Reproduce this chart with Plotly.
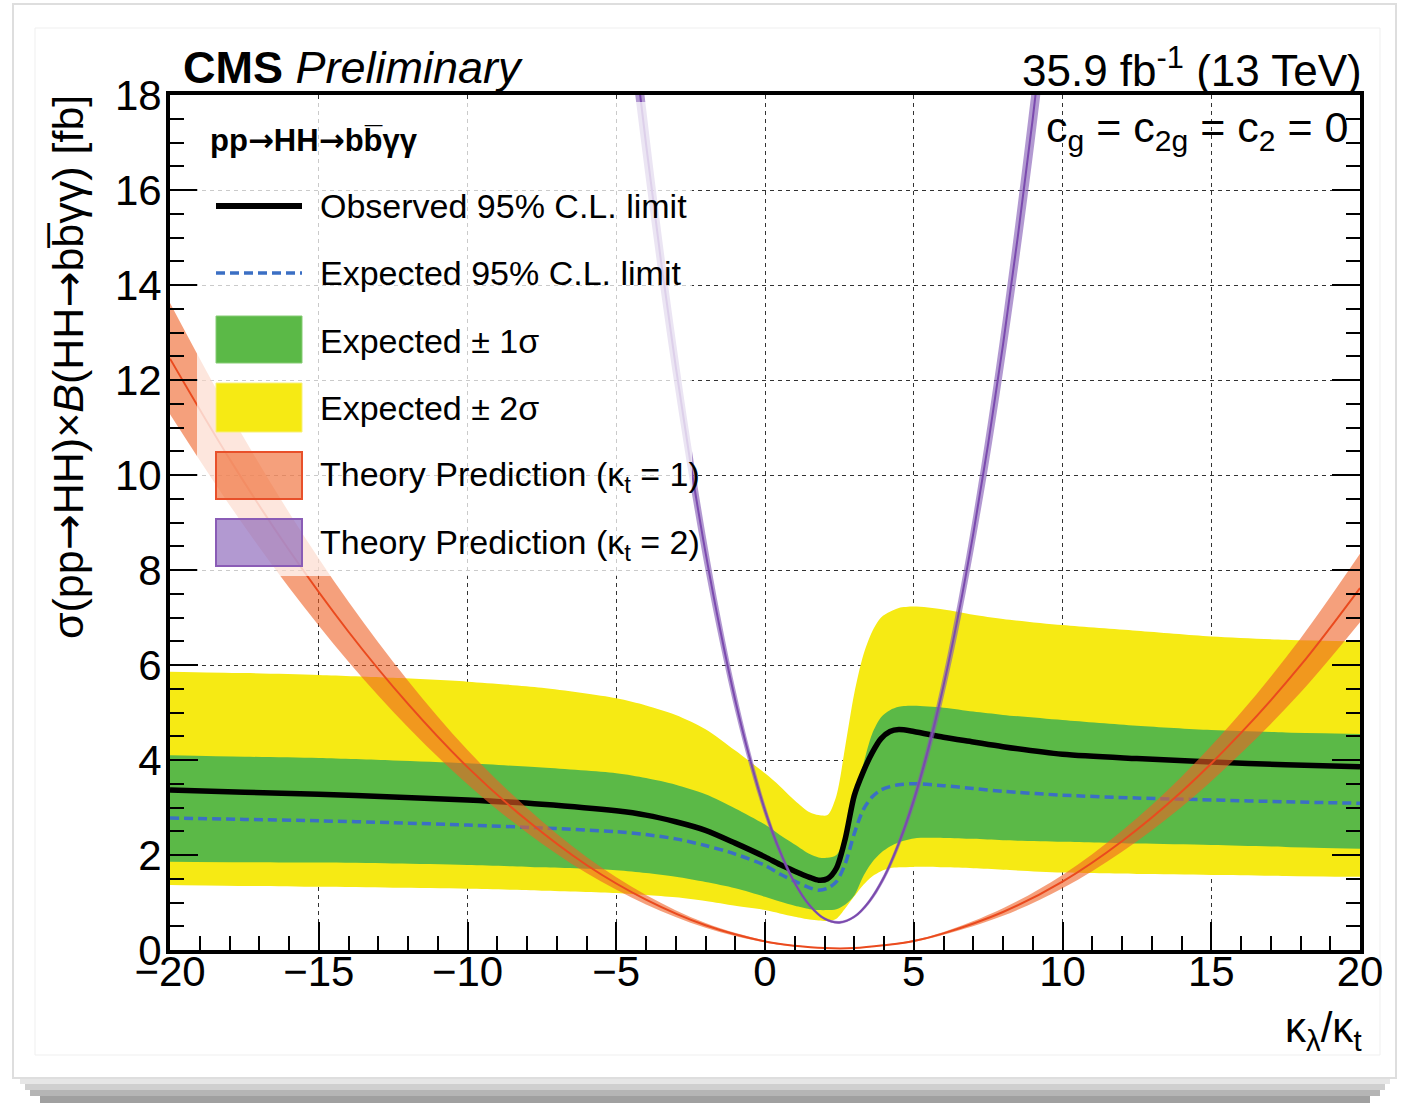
import plotly.graph_objects as go

# ---------------- data ----------------
kl = [-20, -17.5, -15, -12.5, -10, -7.5, -5, -4, -3, -2, -1, 0, 0.5, 1, 1.5, 1.8,
      2.1, 2.4, 2.7, 3.0, 3.3, 3.6, 3.9, 4.2, 4.5, 5, 6, 7, 8, 10, 12.5, 15, 17.5, 20]

observed = [3.37, 3.32, 3.28, 3.22, 3.16, 3.07, 2.93, 2.84, 2.70, 2.52, 2.25, 1.96, 1.80, 1.66, 1.53, 1.47,
            1.50, 1.72, 2.35, 3.25, 3.75, 4.15, 4.45, 4.60, 4.64, 4.60, 4.48, 4.38, 4.28, 4.12, 4.03, 3.96, 3.90, 3.86]

expected = [2.78, 2.75, 2.72, 2.68, 2.63, 2.57, 2.49, 2.43, 2.34, 2.20, 2.02, 1.78, 1.60, 1.45, 1.31, 1.26,
            1.30, 1.44, 1.82, 2.45, 2.95, 3.22, 3.37, 3.44, 3.48, 3.50, 3.46, 3.40, 3.34, 3.26, 3.20, 3.16, 3.12, 3.09]

exp_1s_hi = [4.10, 4.07, 4.04, 3.99, 3.93, 3.84, 3.72, 3.62, 3.48, 3.28, 2.98, 2.64, 2.42, 2.22, 2.02, 1.95,
             1.94, 2.00, 2.40, 3.10, 3.90, 4.55, 4.90, 5.05, 5.12, 5.14, 5.10, 5.02, 4.95, 4.84, 4.72, 4.63, 4.58, 4.55]
exp_1s_lo = [1.86, 1.85, 1.84, 1.82, 1.79, 1.74, 1.68, 1.62, 1.54, 1.43, 1.30, 1.12, 1.02, 0.93, 0.86, 0.84,
             0.84, 0.86, 0.96, 1.15, 1.55, 1.85, 2.05, 2.18, 2.27, 2.35, 2.36, 2.34, 2.31, 2.28, 2.24, 2.21, 2.17, 2.13]

exp_2s_hi = [5.86, 5.83, 5.79, 5.73, 5.65, 5.52, 5.30, 5.15, 4.95, 4.65, 4.20, 3.72, 3.45, 3.15, 2.90, 2.84,
             2.84, 3.25, 4.30, 5.40, 6.20, 6.70, 7.00, 7.12, 7.20, 7.23, 7.17, 7.06, 6.97, 6.84, 6.72, 6.60, 6.53, 6.49]
exp_2s_lo = [1.37, 1.35, 1.33, 1.31, 1.29, 1.25, 1.20, 1.16, 1.11, 1.03, 0.93, 0.84, 0.77, 0.70, 0.64, 0.62,
             0.61, 0.66, 0.88, 1.13, 1.37, 1.55, 1.66, 1.72, 1.74, 1.75, 1.74, 1.72, 1.69, 1.63, 1.60, 1.58, 1.56, 1.54]

# theory prediction, kappa_t = 1
th1_x = [-20, -18, -16, -14, -12, -10, -8, -6, -4, -2, 0, 1, 2, 3, 4, 5, 6, 8, 10, 12, 14, 16, 18, 20]
th1_c = [12.45, 10.34, 8.42, 6.70, 5.18, 3.85, 2.73, 1.79, 1.06, 0.52, 0.18, 0.09, 0.04, 0.04,
         0.10, 0.19, 0.35, 0.80, 1.44, 2.29, 3.33, 4.57, 5.99, 7.62]
th1_hi = [13.62, 11.31, 9.21, 7.33, 5.67, 4.21, 2.99, 1.96, 1.16, 0.57, 0.20, 0.10, 0.045, 0.045,
          0.11, 0.21, 0.38, 0.88, 1.58, 2.51, 3.65, 5.00, 6.56, 8.34]
th1_lo = [11.28, 9.37, 7.63, 6.07, 4.69, 3.49, 2.47, 1.62, 0.96, 0.47, 0.16, 0.08, 0.035, 0.035,
          0.09, 0.17, 0.32, 0.72, 1.30, 2.07, 3.01, 4.14, 5.42, 6.90]

# theory prediction, kappa_t = 2
th2_x = [-4.5, -4, -3.5, -3, -2.5, -2, -1.5, -1, -0.5, 0, 0.5, 1, 1.5, 2, 2.5, 3, 3.5, 4,
         4.5, 5, 5.5, 6, 6.5, 7, 7.5, 8, 8.5, 9, 9.5]
th2_c = [19.6, 16.97, 14.52, 12.28, 10.23, 8.37, 6.72, 5.26, 4.01, 2.94, 2.08, 1.41, 0.94, 0.66,
         0.58, 0.70, 1.02, 1.53, 2.25, 3.15, 4.26, 5.56, 7.06, 8.76, 10.65, 12.74, 15.03, 17.50, 20.2]
th2_hi = [20.5, 17.73, 15.17, 12.83, 10.69, 8.75, 7.02, 5.50, 4.19, 3.07, 2.17, 1.47, 0.98, 0.69,
          0.61, 0.73, 1.07, 1.60, 2.35, 3.29, 4.45, 5.81, 7.38, 9.15, 11.13, 13.31, 15.71, 18.29, 21.1]
th2_lo = [18.7, 16.21, 13.87, 11.73, 9.77, 7.99, 6.42, 5.02, 3.83, 2.81, 1.99, 1.35, 0.90, 0.63,
          0.55, 0.67, 0.97, 1.46, 2.15, 3.01, 4.07, 5.31, 6.74, 8.37, 10.17, 12.17, 14.35, 16.71, 19.3]

x_ticks = [-20, -15, -10, -5, 0, 5, 10, 15, 20]
y_ticks = [0, 2, 4, 6, 8, 10, 12, 14, 16, 18]

legend_labels = ["Observed 95% C.L. limit", "Expected 95% C.L. limit", "Expected \u00b1 1\u03c3",
                 "Expected \u00b1 2\u03c3", "Theory Prediction (\u03ba<sub>t</sub> = 1)",
                 "Theory Prediction (\u03ba<sub>t</sub> = 2)"]

# ---------------- styling ----------------
W, H = 1404, 1103
PL, PR, PT, PB = 170, 1360, 95, 950
FONT = "Liberation Sans, Arial, sans-serif"
ARROW = '<span style="font-family:DejaVu Sans">\u2192</span>'

YELLOW = "#f6ea14"
GREEN = "#5bb947"
BLUE = "#3b6fc4"
ORANGE_FILL = "rgba(238,97,37,0.6)"
ORANGE_LINE = "#ea4a1e"
PURPLE_FILL = "rgba(130,90,180,0.62)"
PURPLE_LINE = "#7b4aae"


def px(xp):
    return (xp - PL) / (PR - PL)


def py(yp):
    return (PB - yp) / (PB - PT)


SM = 0.8
fig = go.Figure()


def band(x, lo, hi, color, sm=SM):
    fig.add_trace(go.Scatter(x=x, y=lo, mode="lines", line=dict(width=0, shape="spline", smoothing=sm),
                             showlegend=False, hoverinfo="skip"))
    fig.add_trace(go.Scatter(x=x, y=hi, mode="lines", line=dict(width=0, shape="spline", smoothing=sm),
                             fill="tonexty", fillcolor=color, showlegend=False, hoverinfo="skip"))


band(kl, exp_2s_lo, exp_2s_hi, YELLOW)
band(kl, exp_1s_lo, exp_1s_hi, GREEN)
fig.add_trace(go.Scatter(x=kl, y=expected, mode="lines",
                         line=dict(color=BLUE, width=3.5, dash="9px,5px", shape="spline", smoothing=SM),
                         showlegend=False))
fig.add_trace(go.Scatter(x=kl, y=observed, mode="lines",
                         line=dict(color="black", width=5.5, shape="spline", smoothing=SM),
                         showlegend=False))
band(th1_x, th1_lo, th1_hi, ORANGE_FILL, 1.0)
fig.add_trace(go.Scatter(x=th1_x, y=th1_c, mode="lines",
                         line=dict(color=ORANGE_LINE, width=2, shape="spline", smoothing=1.0), showlegend=False))
band(th2_x, th2_lo, th2_hi, PURPLE_FILL, 1.0)
fig.add_trace(go.Scatter(x=th2_x, y=th2_c, mode="lines",
                         line=dict(color=PURPLE_LINE, width=2, shape="spline", smoothing=1.0), showlegend=False))

shapes = []
# photo-frame look
shapes.append(dict(type="rect", xref="paper", yref="paper", x0=px(13), x1=px(1396), y0=py(1078), y1=py(4),
                   line=dict(color="#dedede", width=2), layer="below"))
shapes.append(dict(type="rect", xref="paper", yref="paper", x0=px(35), x1=px(1380), y0=py(1055), y1=py(28),
                   line=dict(color="#efefef", width=1), layer="below"))
for (a, b, c, l, r) in [(1079, 1084, "#e6e6e6", 20, 1390), (1084, 1090, "#cfcfcf", 25, 1385),
                        (1090, 1096, "#b5b5b5", 30, 1380), (1096, 1103, "#a0a0a0", 40, 1370)]:
    shapes.append(dict(type="rect", xref="paper", yref="paper", x0=px(l), x1=px(r), y0=py(b), y1=py(a),
                       line=dict(width=0), fillcolor=c, layer="below"))

# semi-transparent legend box
shapes.append(dict(type="rect", xref="paper", yref="paper", x0=px(197), x1=px(692), y0=py(576), y1=py(102),
                   line=dict(width=0), fillcolor="rgba(255,255,255,0.74)", layer="above"))
# legend symbols
SX0, SX1 = px(216), px(302)
shapes.append(dict(type="line", xref="paper", yref="paper", x0=SX0, x1=SX1, y0=py(206), y1=py(206),
                   line=dict(color="black", width=6), layer="above"))
shapes.append(dict(type="line", xref="paper", yref="paper", x0=SX0, x1=SX1, y0=py(273), y1=py(273),
                   line=dict(color=BLUE, width=3.5, dash="9px,5px"), layer="above"))
boxes = [(316, 363, GREEN, "#86cc74", 1), (383, 432, YELLOW, "#f8f07a", 1),
         (452, 499, ORANGE_FILL, "#e8502a", 2), (519, 566, PURPLE_FILL, "#8a5cb6", 2)]
for (t, b, fc, lc, lw) in boxes:
    shapes.append(dict(type="rect", xref="paper", yref="paper", x0=SX0, x1=SX1, y0=py(b), y1=py(t),
                       fillcolor=fc, line=dict(color=lc, width=lw), layer="above"))

annotations = []
leg_y = [206, 273, 341, 408, 476, 544]
for lab, yy in zip(legend_labels, leg_y):
    annotations.append(dict(xref="paper", yref="paper", x=px(318), y=py(yy), xanchor="left", yanchor="middle",
                            text=lab, showarrow=False, font=dict(family=FONT, size=34, color="black")))

annotations += [
    dict(xref="paper", yref="paper", x=px(181), y=py(68), xanchor="left", yanchor="middle",
         text="<b>CMS</b> <i>Preliminary</i>", showarrow=False, font=dict(family=FONT, size=45, color="black")),
    dict(xref="paper", yref="paper", x=px(1364), y=py(68), xanchor="right", yanchor="middle",
         text="35.9 fb<sup>-1</sup> (13 TeV)", showarrow=False, font=dict(family=FONT, size=44, color="black")),
    dict(xref="paper", yref="paper", x=px(208), y=py(140), xanchor="left", yanchor="middle",
         text="<b>pp" + ARROW + "HH" + ARROW + "bb\u0305\u03b3\u03b3</b>", showarrow=False,
         font=dict(family=FONT, size=31, color="black")),
    dict(xref="paper", yref="paper", x=px(1350), y=py(130), xanchor="right", yanchor="middle",
         text="c<sub>g</sub> = c<sub>2g</sub> = c<sub>2</sub> = 0", showarrow=False,
         font=dict(family=FONT, size=43, color="black")),
    dict(xref="paper", yref="paper", x=px(1364), y=py(1030), xanchor="right", yanchor="middle",
         text="\u03ba<sub>\u03bb</sub>/\u03ba<sub>t</sub>", showarrow=False,
         font=dict(family=FONT, size=42, color="black")),
    dict(xref="paper", yref="paper", x=px(68), y=py(93), xanchor="center", yanchor="top", textangle=-90,
         text="\u03c3(pp" + ARROW + "HH)\u00d7<i>B</i>(HH" + ARROW + "bb\u0305\u03b3\u03b3) [fb]",
         showarrow=False, font=dict(family=FONT, size=43, color="black")),
]

axis_common = dict(ticks="inside", ticklen=28, tickwidth=2, tickcolor="black", showline=True, linewidth=4,
                   linecolor="black", showgrid=True, gridcolor="#333333", gridwidth=1, griddash="4px,4px",
                   zeroline=False, tickfont=dict(family=FONT, size=42, color="black"))

fig.update_layout(
    width=W, height=H,
    margin=dict(l=PL, r=W - PR, t=PT, b=H - PB),
    paper_bgcolor="white", plot_bgcolor="white",
    showlegend=False,
    xaxis=dict(range=[-20, 20], tickvals=x_ticks, mirror=True, ticklabelstandoff=-18,
               minor=dict(ticks="inside", ticklen=14, tickwidth=2, tickcolor="black", dtick=1, showgrid=False),
               **axis_common),
    yaxis=dict(range=[0, 18], tickvals=y_ticks, mirror="allticks", ticklabelstandoff=-4,
               minor=dict(ticks="inside", ticklen=14, tickwidth=2, tickcolor="black", dtick=0.5, showgrid=False),
               **axis_common),
    shapes=shapes,
    annotations=annotations,
)

fig.write_html("out.html")
